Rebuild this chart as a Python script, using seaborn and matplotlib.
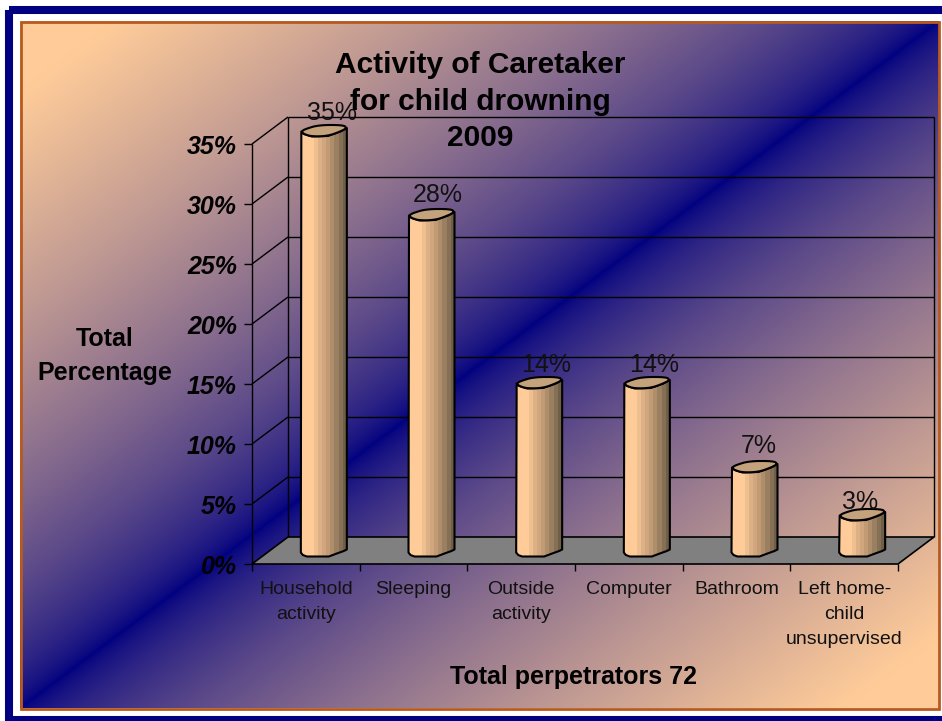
import numpy as np
import matplotlib
matplotlib.use('Agg')
import matplotlib.pyplot as plt
from matplotlib.colors import to_rgb
from matplotlib.patches import Polygon, Rectangle
import seaborn as sns

categories = ['Household\nactivity', 'Sleeping', 'Outside\nactivity', 'Computer', 'Bathroom',
              'Left home-\nchild\nunsupervised']
values = [35, 28, 14, 14, 7, 3]
value_labels = ['35%', '28%', '14%', '14%', '7%', '3%']
y_ticks = [0, 5, 10, 15, 20, 25, 30, 35]
y_tick_labels = ['0%', '5%', '10%', '15%', '20%', '25%', '30%', '35%']
title = 'Activity of Caretaker\nfor child drowning\n2009'
y_title = 'Total\nPercentage'
x_title = 'Total perpetrators 72'

PEACH = np.array(to_rgb('#FFCC99'))
NAVY = np.array(to_rgb('#000080'))
strips = ['#FFCC99', '#FFCC99', '#FFCC99', '#EFC08F', '#DDB085', '#CFA67D', '#C29B75',
          '#AE8E6B', '#9A7F60', '#857056', '#6F5F49']

sns.set_style('white')
plt.rcParams['font.family'] = ['Liberation Sans', 'DejaVu Sans']
plt.rcParams['text.color'] = 'black'

fig = plt.figure(figsize=(9.42, 7.21), dpi=100, facecolor='white')

# background layer in pixel coords
bg = fig.add_axes([0, 0, 1, 1])
bg.set_axis_off()
bg.add_patch(Rectangle((9, 10), 940, 709.5, fill=False, ec='#000080', lw=5.8))

n = 400
u, v = np.meshgrid(np.linspace(0, 1, n), np.linspace(0, 1, n))
t = np.minimum(np.abs(u + v - 1) / 0.9, 1) ** 0.65
grad = NAVY + t[..., None] * (PEACH - NAVY)
bg.imshow(grad, extent=(20, 939, 708, 21), aspect='auto', interpolation='bilinear', zorder=1)
bg.add_patch(Rectangle((20.5, 21.5), 918, 687, fill=False, ec='#B85A20', lw=2, zorder=2))
bg.set_xlim(0, 942)
bg.set_ylim(721, 0)

# main axes sits on the middle plane of the 3d box, where the bars stand
ax = fig.add_axes([270 / 942, (721 - 550.5) / 721, 646 / 942, 420 / 721])
ax.patch.set_visible(False)
sns.barplot(x=categories, y=values, color='#FFCC99', width=0.418, ax=ax)
ax.set_axis_off()

px_x = 6 / 646
px_y = 35 / 420
dx = 18 * px_x
dy = 13.5 * px_y
x0, x1 = -0.5, 5.5
top_y = y_ticks[-1]

# floor
ax.add_patch(Polygon([(x0 - dx, -dy), (x1 - dx, -dy), (x1 + dx, dy), (x0 + dx, dy)], closed=True,
                     fc='#808080', ec='black', lw=1.2, clip_on=False, zorder=1))


def line(xs, ys, lw=1.0):
    ax.plot(xs, ys, color='black', lw=lw, clip_on=False, zorder=2, solid_capstyle='butt')


def smooth(pts, rounds=2):
    # corner cutting, the cylinder ends are soft in the original
    pts = np.array(pts, dtype=float)
    for _ in range(rounds):
        nxt = np.roll(pts, -1, axis=0)
        pts = np.column_stack([0.75 * pts + 0.25 * nxt, 0.25 * pts + 0.75 * nxt]).reshape(-1, 2)
    return pts


# walls and grid
for yv, lab in zip(y_ticks, y_tick_labels):
    if yv > 0:
        line([x0 + dx, x1 + dx], [yv + dy, yv + dy])
        line([x0 - dx, x0 + dx], [yv - dy, yv + dy])
    line([x0 - dx - 8 * px_x, x0 - dx], [yv - dy, yv - dy])
    ax.text(x0 - dx - 15 * px_x, yv - dy, lab, ha='right', va='center_baseline',
            fontsize=18, fontweight='bold', fontstyle='italic', clip_on=False)
line([x0 - dx, x0 - dx], [-dy, top_y - dy])
line([x0 + dx, x0 + dx], [dy, top_y + dy])
line([x1 + dx, x1 + dx], [dy, top_y + dy])

for i in range(len(categories) + 1):
    xt = x0 - dx + i
    line([xt, xt], [-dy, -dy - 7 * px_y])

for i, cat in enumerate(categories):
    ax.text(i - dx, -dy - 16.5 * px_y, cat, ha='center', va='top', fontsize=14, color='#111111',
            linespacing=1.63, clip_on=False)

# outline of a cylinder in pixels around its centre, top and bottom ends
top_shape = [(-22.5, 1), (-18.5, -1.5), (-5, -5.5), (19.5, -5.5), (23, -2.5), (16.5, 1), (4, 5.5), (-12, 6), (-20, 3.5)]
base_shape = [(23, -1), (20, 0.5), (13, 3), (5, 6), (-17, 6), (-21, 4.5), (-23, 2)]
label_shift = [(8, 20.5), (6, 22), (7, 20), (7, 20), (4, 23), (-2, 15)]
img = np.array([[to_rgb(c) for c in strips]])

for i, bar in enumerate(list(ax.patches)[:len(values)]):
    cx = bar.get_x() + bar.get_width() / 2
    h = bar.get_height()
    bar.set_visible(False)
    side = [(cx + 23 * px_x, h + 2.5 * px_y), (cx + 16.5 * px_x, h - 1 * px_y), (cx + 4 * px_x, h - 5.5 * px_y),
            (cx - 12 * px_x, h - 6 * px_y), (cx - 20 * px_x, h - 3.5 * px_y), (cx - 22.5 * px_x, h - 1 * px_y)]
    side += [(cx + a * px_x, -b * px_y) for a, b in base_shape[::-1]]
    shell = Polygon(side, closed=True, fc='none', ec='black', lw=1.5, joinstyle='round', clip_on=False, zorder=4)
    ax.add_patch(shell)
    im = ax.imshow(img, extent=(cx - 23 * px_x, cx + 23 * px_x, -8 * px_y, h + 8 * px_y), aspect='auto',
                   interpolation='nearest', zorder=3)
    im.set_clip_box(fig.bbox)
    im.set_clip_path(shell)
    cap = Polygon(smooth([(cx + a * px_x, h - b * px_y) for a, b in top_shape]), closed=True, fc='#C4A27C',
                  ec='black', lw=1.5, clip_on=False, zorder=5)
    ax.add_patch(cap)
    sx, sy = label_shift[i]
    ax.annotate(value_labels[i], (cx, h), xytext=(sx, sy), textcoords='offset pixels', ha='center',
                va='center_baseline', fontsize=18, color='#111111', zorder=6, annotation_clip=False)

ax.set_xlim(-0.5, 5.5)
ax.set_ylim(0, 35)

fig.text(480 / 942, 1 - 101.5 / 721, title, ha='center', va='center', fontsize=21.5, fontweight='bold',
         linespacing=1.4, zorder=10)
fig.text(105 / 942, 1 - 356 / 721, y_title, ha='center', va='center', fontsize=18, fontweight='bold',
         linespacing=1.5, zorder=10)
fig.text(574 / 942, 1 - 677 / 721, x_title, ha='center', va='center', fontsize=18, fontweight='bold', zorder=10)

fig.savefig('out.png', dpi=100, facecolor='white')
